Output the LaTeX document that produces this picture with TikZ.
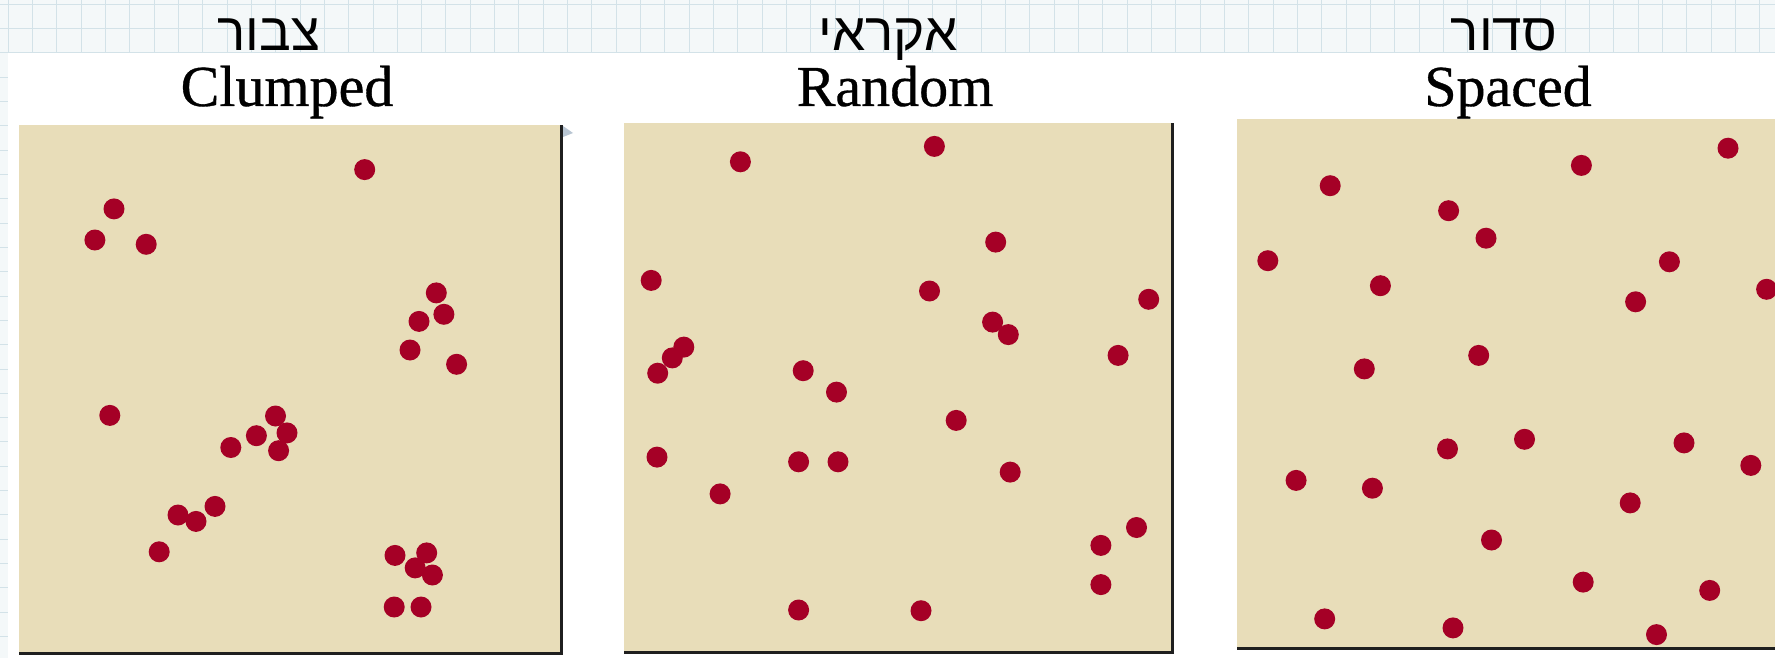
\documentclass[tikz,border=0pt]{standalone}
\usepackage{fontspec}
\setmainfont{Liberation Serif}[FakeBold=0.6]
\newfontfamily\engfont{Liberation Serif}[FakeBold=0.6]
\newfontfamily\hebfont[Script=Hebrew]{Liberation Sans}
\TeXXeTstate=1
\definecolor{gridbg}{HTML}{F4F8F9}
\definecolor{gridline}{HTML}{D3E2E8}
\definecolor{sand}{HTML}{E8DDB9}
\definecolor{dotred}{HTML}{A50026}
\definecolor{shadowblue}{HTML}{B9C6D3}
\tikzset{
  dotc/.style={fill=dotred},
  panel/.style={fill=sand},
  edgeline/.style={fill=black!88},
  hebtitle/.style={anchor=base, inner sep=0pt, font=\hebfont\fontsize{53}{55}\selectfont},
  engtitle/.style={anchor=base, inner sep=0pt, font=\engfont\fontsize{58}{60}\selectfont},
}
\begin{document}
\begin{tikzpicture}[x=1pt,y=-1pt]
\useasboundingbox (0,0) rectangle (1775,658);
\clip (0,0) rectangle (1775,658);
% grid paper background
\fill[gridbg] (0,0) rectangle (1775,658);
\foreach \i in {0,...,73} \draw[gridline, line width=0.9pt] ({8+24.33*\i},0) -- ({8+24.33*\i},658);
\foreach \j in {0,...,27} \draw[gridline, line width=0.9pt] (0,{4+24.33*\j}) -- (1775,{4+24.33*\j});
\fill[white] (8,53) rectangle (1775,658);

% panels
\fill[panel] (19,125) rectangle (560.5,652);
\fill[edgeline] (560,125) rectangle (563,655);
\fill[edgeline] (19,652) rectangle (563,655);
\fill[shadowblue] (563,126) -- (573,133) -- (563,137) -- cycle;

\fill[panel] (623.5,123) rectangle (1171.5,651);
\fill[edgeline] (1171,123) rectangle (1174,654);
\fill[edgeline] (623.5,651) rectangle (1174,654);

\fill[panel] (1237,119) rectangle (1775,647);
\fill[edgeline] (1237,647) rectangle (1775,650);

% titles
\node[hebtitle] (hclump) at (269,51) {\beginR צבור\endR};
\node[hebtitle] (hrand) at (888,51) {\beginR אקראי\endR};
\node[hebtitle] (hspace) at (1504,51) {\beginR סדור\endR};
\node[engtitle] (eclump) at (287,106) {Clumped};
\node[engtitle] (erand) at (895,106) {Random};
\node[engtitle] (espace) at (1508,106) {Spaced};

% clumped dots
\foreach \x/\y in {364.7/169.6, 114/208.9, 94.9/240, 146.2/244.3, 436.3/292.9, 443.9/314.3, 419/321.4, 410/350, 456.6/364.3, 109.8/415.4, 275.5/416, 287/432.9, 256.4/435.7, 230.8/447.5, 278.6/450.7, 215/506.4, 178/515, 196/521.4, 159.2/551.8, 426.7/552.9, 395/555.4, 415.2/567.9, 432.4/575, 394.2/607, 421/607}
  \fill[dotc] (\x,\y) circle[radius=10.5];

% random dots
\foreach \x/\y in {934.4/146.4, 740.4/161.8, 995.7/242.1, 651.2/280.4, 929.5/291, 1148.7/299.3, 992.6/322.1, 1008.3/334.6, 683.8/347.1, 672.3/357.9, 657.7/373.2, 1118.1/355.4, 803.2/370.7, 836.5/392.1, 956.2/420.4, 657/457.1, 798.6/461.8, 838/461.8, 1010.2/472.1, 720.1/493.9, 1136.5/527.5, 1100.9/545.4, 1100.9/584.6, 798.6/610, 921/610.7}
  \fill[dotc] (\x,\y) circle[radius=10.5];

% spaced dots
\foreach \x/\y in {1728/148.2, 1581.4/165.4, 1330.2/185.7, 1448.6/210.7, 1486/238.2, 1267.8/260.7, 1669.4/261.8, 1380.4/285.7, 1766.6/289.3, 1635.6/301.8, 1478.7/355.4, 1364.3/368.9, 1524.5/439.3, 1447.5/448.9, 1684/442.9, 1750.8/465.4, 1296.1/480.4, 1372.4/488.2, 1630.2/502.9, 1491.5/540, 1583.2/582.1, 1709.7/590.4, 1324.7/618.9, 1453/627.9, 1656.5/634.6}
  \fill[dotc] (\x,\y) circle[radius=10.5];
\end{tikzpicture}
\end{document}
